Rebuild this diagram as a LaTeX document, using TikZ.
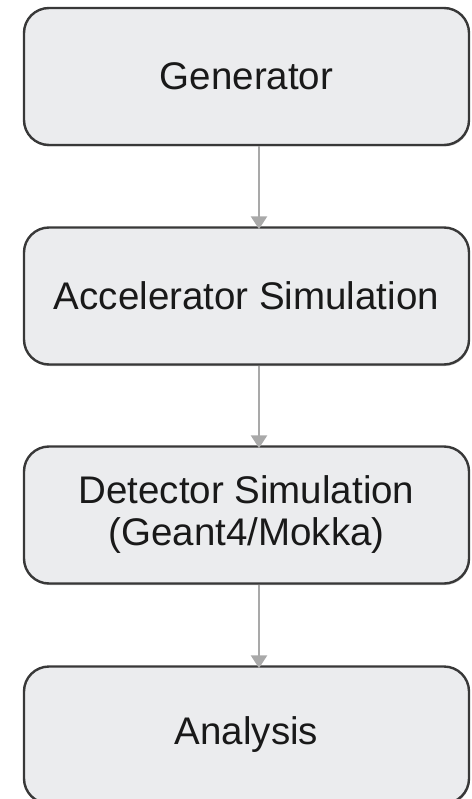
\documentclass[tikz,border=0pt]{standalone}
\usepackage{fontspec}
\setmainfont{Liberation Sans}
\usetikzlibrary{arrows.meta,shadows}
\definecolor{boxfill}{HTML}{EBECEE}
\definecolor{boxline}{HTML}{383838}
\definecolor{arrgray}{HTML}{A9A9A9}
\tikzset{
  stepbox/.style={draw=boxline, line width=2.4pt, fill=boxfill, rounded corners=25pt,
    minimum width=445pt, minimum height=137pt, inner sep=0pt, align=center,
    font=\fontsize{38.5}{42}\selectfont, text=black!90,
    drop shadow={shadow xshift=0.8pt, shadow yshift=-1.5pt, opacity=0.25, fill=black}},
  flow/.style={draw=arrgray, line width=2.5pt, -{Triangle[width=16pt,length=13pt]}, shorten >=-3pt}
}
\begin{document}
\begin{tikzpicture}[x=1pt,y=1pt]
\useasboundingbox (0,0) rectangle (471,-799);
\begin{scope}
\clip (0,0) rectangle (471,-799);
\node[stepbox] (gen) at (246.5,-76.5) {Generator};
\node[stepbox] (acc) at (246.5,-296) {Accelerator Simulation};
\node[stepbox] (det) at (246.5,-515) {Detector Simulation\\(Geant4/Mokka)};
\node[stepbox] (ana) at (246.5,-735) {Analysis};
\draw[flow] ([xshift=12.5pt]gen.south) -- ([xshift=12.5pt]acc.north);
\draw[flow] ([xshift=12.5pt]acc.south) -- ([xshift=12.5pt]det.north);
\draw[flow] ([xshift=12.5pt]det.south) -- ([xshift=12.5pt]ana.north);
\end{scope}
\end{tikzpicture}
\end{document}
